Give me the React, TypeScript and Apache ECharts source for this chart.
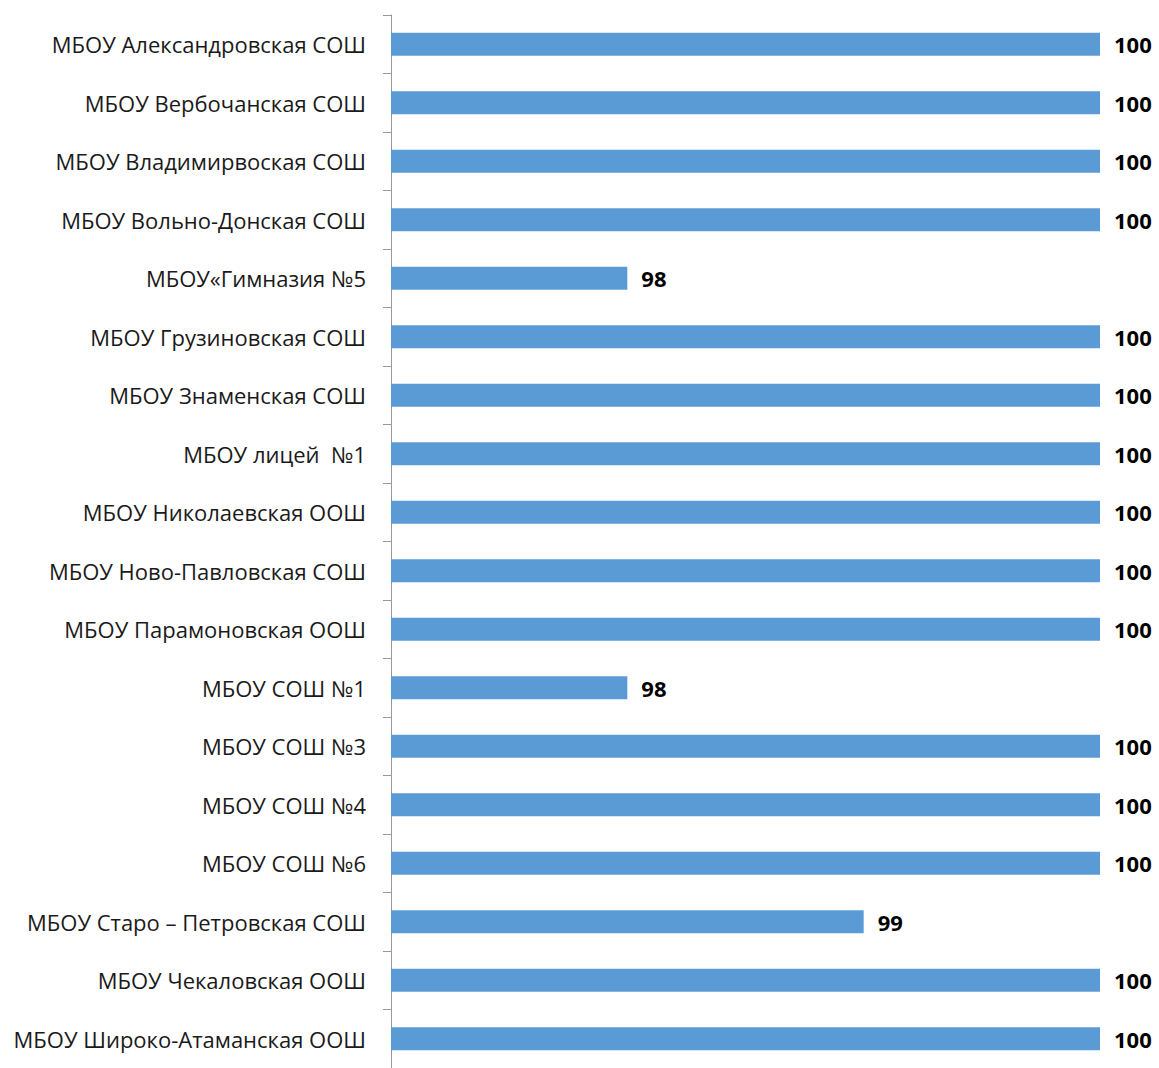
import React, { useEffect, useRef } from "react";
import * as echarts from "echarts";

const categories = [
  "МБОУ Александровская СОШ",
  "МБОУ Вербочанская СОШ",
  "МБОУ Владимирвоская СОШ",
  "МБОУ Вольно-Донская СОШ",
  "МБОУ«Гимназия №5",
  "МБОУ Грузиновская СОШ",
  "МБОУ Знаменская СОШ",
  "МБОУ лицей  №1",
  "МБОУ Николаевская ООШ",
  "МБОУ Ново-Павловская СОШ",
  "МБОУ Парамоновская ООШ",
  "МБОУ СОШ №1",
  "МБОУ СОШ №3",
  "МБОУ СОШ №4",
  "МБОУ СОШ №6",
  "МБОУ Старо – Петровская СОШ",
  "МБОУ Чекаловская ООШ",
  "МБОУ Широко-Атаманская ООШ",
];

const values = [100, 100, 100, 100, 98, 100, 100, 100, 100, 100, 100, 98, 100, 100, 100, 99, 100, 100];

export default function App() {
  const ref = useRef<HTMLDivElement>(null);
  useEffect(() => {
    if (!ref.current) return;
    const chart = echarts.init(ref.current, null, { renderer: "svg" });
    chart.setOption({
      animation: false,
      backgroundColor: "#ffffff",
      grid: { left: 391, right: 59, top: 15, height: 1057, containLabel: false },
      xAxis: {
        type: "value",
        min: 97,
        max: 100,
        show: false,
      },
      yAxis: {
        type: "category",
        data: categories,
        inverse: true,
        axisLine: { show: true, lineStyle: { color: "#999999", width: 1 } },
        axisTick: { show: true, length: 8, lineStyle: { color: "#999999" } },
        axisLabel: {
          margin: 25,
          color: "#1a1a1a",
          fontSize: 22,
          fontFamily: "Open Sans",
        },
        splitLine: { show: false },
      },
      series: [
        {
          type: "bar",
          data: values,
          barWidth: 23,
          itemStyle: { color: "#5b9bd5" },
          label: {
            show: true,
            position: "right",
            distance: 14,
            color: "#000",
            fontWeight: "bold",
            fontSize: 22,
            fontFamily: "Open Sans",
          },
        },
      ],
    });
    return () => chart.dispose();
  }, []);
  return (
    <div
      ref={ref}
      style={{ position: "fixed", left: 0, top: 0, width: 1159, height: 1068, background: "#fff" }}
    />
  );
}
